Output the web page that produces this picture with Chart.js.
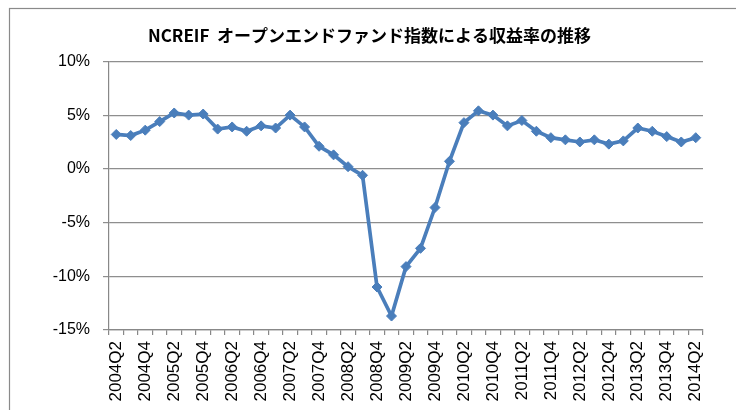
<!DOCTYPE html>
<html>
<head>
<meta charset="utf-8">
<script src="https://cdn.jsdelivr.net/npm/chart.js@4"></script>
<style>
  html, body { margin: 0; padding: 0; background: #ffffff; }
  #wrap { width: 736px; height: 410px; }
</style>
</head>
<body>
<div id="wrap"><canvas id="returnChart" width="736" height="410"></canvas></div>
<script>
// Quarters 2004Q2 .. 2014Q2
const quarters = [
    '2004Q2', '2004Q3', '2004Q4',
    '2005Q1', '2005Q2', '2005Q3', '2005Q4',
    '2006Q1', '2006Q2', '2006Q3', '2006Q4',
    '2007Q1', '2007Q2', '2007Q3', '2007Q4',
    '2008Q1', '2008Q2', '2008Q3', '2008Q4',
    '2009Q1', '2009Q2', '2009Q3', '2009Q4',
    '2010Q1', '2010Q2', '2010Q3', '2010Q4',
    '2011Q1', '2011Q2', '2011Q3', '2011Q4',
    '2012Q1', '2012Q2', '2012Q3', '2012Q4',
    '2013Q1', '2013Q2', '2013Q3', '2013Q4',
    '2014Q1', '2014Q2'
];

// Return rate (%)
const returns = [
    3.2, 3.1, 3.6,
    4.4, 5.2, 5.0, 5.1,
    3.7, 3.9, 3.5, 4.0,
    3.8, 5.0, 3.9, 2.1,
    1.3, 0.2, -0.6, -11.0,
    -13.7, -9.1, -7.4, -3.6,
    0.7, 4.3, 5.4, 5.0,
    4.0, 4.5, 3.5, 2.9,
    2.7, 2.5, 2.7, 2.3,
    2.6, 3.8, 3.5, 3.0,
    2.5, 2.9
];

const yTicks = [-15, -10, -5, 0, 5, 10];

const chartTitle = 'NCREIF  オープンエンドファンド指数による収益率の推移';

// Frame round the chart (runs past the right and bottom edges)
const framePlugin = {
    id: 'frame',
    afterLayout(chart) {
        // title sits a little right of the plot centre in the original
        if (chart.titleBlock) {
            chart.titleBlock.left += 26;
        }
    },
    beforeDraw(chart) {
        const ctx = chart.ctx;
        ctx.save();
        ctx.strokeStyle = '#8a8a8a';
        ctx.lineWidth = 1.2;
        ctx.strokeRect(9.5, 8.5, 800, 500);
        ctx.restore();
    }
};

const ctx = document.getElementById('returnChart');
const returnChart = new Chart(ctx, {
    type: 'line',
    data: {
        labels: quarters,
        datasets: [{
            label: '収益率',
            data: returns,
            borderColor: '#4a7ebb',
            backgroundColor: '#4a7ebb',
            borderWidth: 3.7,
            tension: 0,
            fill: false,
            pointStyle: 'rectRot',
            pointRadius: 5,
            pointBackgroundColor: '#4a7ebb',
            pointBorderColor: '#4a7ebb',
            pointBorderWidth: 1
        }]
    },
    options: {
        responsive: false,
        animation: false,
        layout: {
            padding: { left: 10, right: 33, top: 0, bottom: 0 }
        },
        plugins: {
            legend: { display: false },
            tooltip: { enabled: false },
            title: {
                display: true,
                text: chartTitle,
                color: '#000000',
                font: { family: '"Noto Sans CJK JP", sans-serif', size: 17, weight: 'bold' },
                padding: { top: 25, bottom: 16 }
            }
        },
        scales: {
            y: {
                min: -15,
                max: 10,
                afterFit(scale) { scale.width = 99; },
                afterBuildTicks(scale) {
                    scale.ticks = yTicks.map(v => ({ value: v }));
                },
                border: { color: '#888888', width: 1.2 },
                grid: {
                    color: '#8e8e8e',
                    lineWidth: 1.2,
                    tickLength: 6,
                    drawTicks: true
                },
                ticks: {
                    color: '#000000',
                    padding: 13,
                    font: { family: '"Liberation Sans", Arial, sans-serif', size: 16 },
                    callback: v => v + '%'
                }
            },
            x: {
                offset: true,
                afterFit(scale) { scale.height = 80; },
                border: { color: '#888888', width: 1.2 },
                grid: {
                    offset: true,
                    drawOnChartArea: false,
                    drawTicks: true,
                    tickLength: 5,
                    color: '#888888',
                    lineWidth: 1.2
                },
                ticks: {
                    color: '#000000',
                    autoSkip: false,
                    maxRotation: 90,
                    minRotation: 90,
                    padding: 6,
                    font: { family: '"Liberation Sans", Arial, sans-serif', size: 17 },
                    callback: function(val, idx) {
                        return idx % 2 === 0 ? quarters[idx] : '';
                    }
                }
            }
        }
    },
    plugins: [framePlugin]
});
</script>
</body>
</html>
